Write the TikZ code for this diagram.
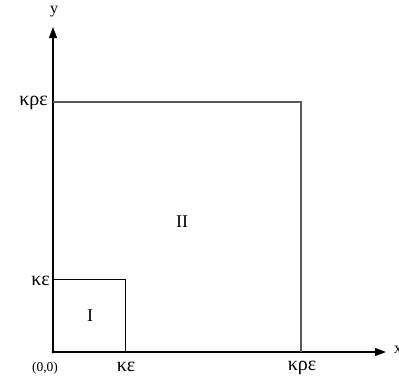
\documentclass[tikz,border=0pt]{standalone}
\usepackage{fontspec}
\setmainfont{Liberation Serif}
\usetikzlibrary{arrows.meta}
\begin{document}
\begin{tikzpicture}[x=1pt,y=-1pt,
  axis/.style={line width=1.1pt,-{Triangle[length=11pt,width=8pt]}},
  bigbox/.style={line width=1.2pt,draw=black!65},
  smallbox/.style={line width=1pt,draw=black},
  lab/.style={font=\fontsize{18}{18}\selectfont,inner sep=1pt},
  glab/.style={font=\fontsize{20}{20}\selectfont,inner sep=1pt},
  axlab/.style={font=\fontsize{16}{16}\selectfont,inner sep=1pt},
  small/.style={font=\fontsize{13.5}{13.5}\selectfont,inner sep=1pt}]
\useasboundingbox (0,0) rectangle (399,381);
\coordinate (O) at (53,352);
\coordinate (xend) at (386,352);
\coordinate (yend) at (53,27);
\draw[axis] (O) -- (xend);
\draw[axis] (O) -- (yend);
\coordinate (B1) at (53,102);
\coordinate (B2) at (301,102);
\coordinate (B3) at (301,352);
\draw[bigbox] (B1) -- (B2) -- (B3);
\coordinate (S1) at (53,279);
\coordinate (S2) at (125,279);
\coordinate (S3) at (125,352);
\draw[smallbox] (S1) -- (S2) -- (S3);
\fill (O) circle (1.5pt);
\node[axlab] (ylab) at (54,12) {y};
\node[axlab,anchor=west] (xlab) at (393,350) {x};
\node[glab,anchor=east] (kre) at (49,103) {κρε};
\node[glab,anchor=east] (ke) at (51,281) {κε};
\node[small] (orig) at (45,368) {(0,0)};
\node[glab] (kex) at (126,367) {κε};
\node[glab] (krex) at (302,368) {κρε};
\node[lab] (II) at (182,222) {II};
\node[lab] (I) at (90,316) {I};
\end{tikzpicture}
\end{document}
